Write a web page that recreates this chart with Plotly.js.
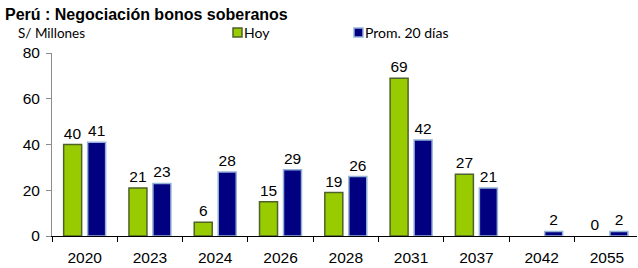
<!DOCTYPE html>
<html>
<head>
<meta charset="utf-8">
<script src="https://cdn.plot.ly/plotly-3.0.1.min.js"></script>
<style>html,body{margin:0;padding:0;background:#fff;}#chart{width:638px;height:268px;}</style>
</head>
<body>
<div id="chart"></div>
<script>
var categories = ["2020", "2023", "2024", "2026", "2028", "2031", "2037", "2042", "2055"];
var hoy = [40, 21, 6, 15, 19, 69, 27, null, 0];
var prom20 = [41, 23, 28, 29, 26, 42, 21, 2, 2];
var seriesNames = ["Hoy", "Prom. 20 días"];
var yTicks = [0, 20, 40, 60, 80];

function labels(arr) { return arr.map(function (v) { return v === null ? "" : String(v); }); }
function edgeWidths(arr) { return arr.map(function (v) { return v ? 1.5 : 0; }); }

var labelFont = { family: "Liberation Sans, Arial, sans-serif", size: 15.5, color: "#000" };
var legendFont = { family: "Lato, sans-serif", size: 14, color: "#000" };
var colors = [
  { fill: "#99CC00", line: "#4F6228" },
  { fill: "#000080", line: "#95B3D7" }
];

var traces = [
  {
    type: "bar", name: seriesNames[0], x: categories, y: hoy,
    text: labels(hoy), textposition: "outside", textfont: labelFont, cliponaxis: false,
    marker: { color: colors[0].fill, line: { color: colors[0].line, width: edgeWidths(hoy) } },
    hoverinfo: "x+y"
  },
  {
    type: "bar", name: seriesNames[1], x: categories, y: prom20,
    text: labels(prom20), textposition: "outside", textfont: labelFont, cliponaxis: false,
    marker: { color: colors[1].fill, line: { color: colors[1].line, width: edgeWidths(prom20) } },
    hoverinfo: "x+y"
  }
];

// plot area: left 52px, width 585px; bottom 236px, height 183px
function px(x) { return (x - 52) / 585; }
function py(y) { return (236 - y) / 183; }

var legendX = [233, 354];
var shapes = [];
var annotations = [
  {
    text: "S/ Millones", xref: "paper", yref: "paper", x: px(16), xanchor: "left",
    y: py(33), yanchor: "middle", showarrow: false,
    font: { family: "Lato, sans-serif", size: 13.5, color: "#000" }
  }
];
seriesNames.forEach(function (name, i) {
  shapes.push({
    type: "rect", xref: "paper", yref: "paper",
    x0: px(legendX[i]), x1: px(legendX[i] + 9), y0: py(37), y1: py(28),
    fillcolor: colors[i].fill, line: { color: colors[i].line, width: 1.5 }
  });
  annotations.push({
    text: name, xref: "paper", yref: "paper", x: px(legendX[i] + 9), xanchor: "left",
    y: py(32.5), yanchor: "middle", showarrow: false, font: legendFont
  });
});

var layout = {
  width: 638, height: 268,
  margin: { l: 52, r: 1, t: 53, b: 32 },
  paper_bgcolor: "#fff", plot_bgcolor: "#fff",
  title: {
    text: "<b>Perú : Negociación bonos soberanos</b>",
    font: { family: "Liberation Sans, Arial, sans-serif", size: 16, color: "#000" },
    x: 5 / 638, xanchor: "left", xref: "container",
    y: 1 - 14 / 268, yanchor: "middle", yref: "container"
  },
  barmode: "group", bargap: 0.265, bargroupgap: 0.25,
  showlegend: false,
  xaxis: {
    type: "category", range: [-0.5, 8.46],
    showline: true, linecolor: "#000", linewidth: 1,
    ticks: "outside", tickson: "boundaries", ticklen: 5, tickcolor: "#000",
    ticklabelstandoff: 7,
    tickfont: labelFont, showgrid: false, zeroline: false, fixedrange: true
  },
  yaxis: {
    range: [0, 80], tickvals: yTicks, ticktext: yTicks.map(String),
    showline: true, linecolor: "#8c8c8c", linewidth: 1,
    ticks: "outside", ticklen: 5, tickcolor: "#8c8c8c",
    ticklabelstandoff: 3,
    tickfont: labelFont, showgrid: false, zeroline: false, fixedrange: true
  },
  shapes: shapes,
  annotations: annotations
};

Plotly.newPlot("chart", traces, layout, { displayModeBar: false, staticPlot: true });
</script>
</body>
</html>
